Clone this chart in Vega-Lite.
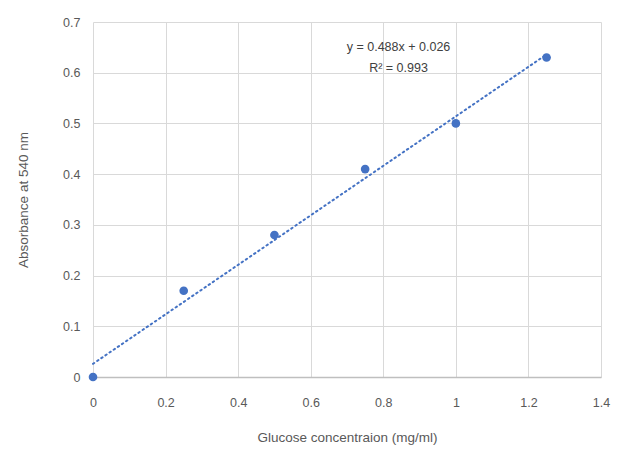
{
  "$schema": "https://vega.github.io/schema/vega-lite/v6.json",
  "width": 508,
  "height": 355,
  "autosize": {"type": "none"},
  "padding": {"left": 93, "top": 22, "right": 25, "bottom": 94},
  "background": "white",
  "config": {
    "view": {"stroke": null},
    "font": "Liberation Sans",
    "axis": {
      "labelColor": "#595959",
      "titleColor": "#595959",
      "labelFontSize": 12.5,
      "titleFontSize": 13.5,
      "titleFontWeight": "normal",
      "gridColor": "#d9d9d9",
      "gridWidth": 1,
      "ticks": false,
      "format": "~g"
    }
  },
  "datasets": {
    "points": [
      {"conc": 0, "abs": 0},
      {"conc": 0.25, "abs": 0.17},
      {"conc": 0.5, "abs": 0.28},
      {"conc": 0.75, "abs": 0.41},
      {"conc": 1.0, "abs": 0.5},
      {"conc": 1.25, "abs": 0.63}
    ],
    "trend": [
      {"conc": 0, "abs": 0.026},
      {"conc": 1.25, "abs": 0.636}
    ],
    "labels": [
      {"conc": 0.842, "abs": 0.651, "text": "y = 0.488x + 0.026"},
      {"conc": 0.842, "abs": 0.609, "text": "R² = 0.993"}
    ]
  },
  "layer": [
    {
      "data": {"name": "trend"},
      "mark": {"type": "line", "color": "#4472C4", "strokeWidth": 2, "strokeDash": [1.5, 3.5], "strokeCap": "round"},
      "encoding": {
        "x": {
          "field": "conc", "type": "quantitative",
          "scale": {"domain": [0, 1.4], "nice": false},
          "axis": {
            "title": "Glucose concentraion (mg/ml)",
            "values": [0, 0.2, 0.4, 0.6, 0.8, 1, 1.2, 1.4],
            "labelPadding": 19,
            "titlePadding": 22,
            "domainColor": "#bfbfbf",
            "domainWidth": 1.5,
            "labelFlush": false
          }
        },
        "y": {
          "field": "abs", "type": "quantitative",
          "scale": {"domain": [0, 0.7], "nice": false},
          "axis": {
            "title": "Absorbance at 540 nm",
            "values": [0, 0.1, 0.2, 0.3, 0.4, 0.5, 0.6, 0.7],
            "labelPadding": 13,
            "titlePadding": 32,
            "domain": false,
            "labelFlush": false
          }
        }
      }
    },
    {
      "data": {"name": "points"},
      "mark": {"type": "circle", "color": "#4472C4", "opacity": 1, "size": 75},
      "encoding": {
        "x": {"field": "conc", "type": "quantitative"},
        "y": {"field": "abs", "type": "quantitative"}
      }
    },
    {
      "data": {"name": "labels"},
      "mark": {"type": "text", "color": "#404040", "fontSize": 12.5, "align": "center", "baseline": "middle"},
      "encoding": {
        "x": {"field": "conc", "type": "quantitative"},
        "y": {"field": "abs", "type": "quantitative"},
        "text": {"field": "text"}
      }
    }
  ]
}
